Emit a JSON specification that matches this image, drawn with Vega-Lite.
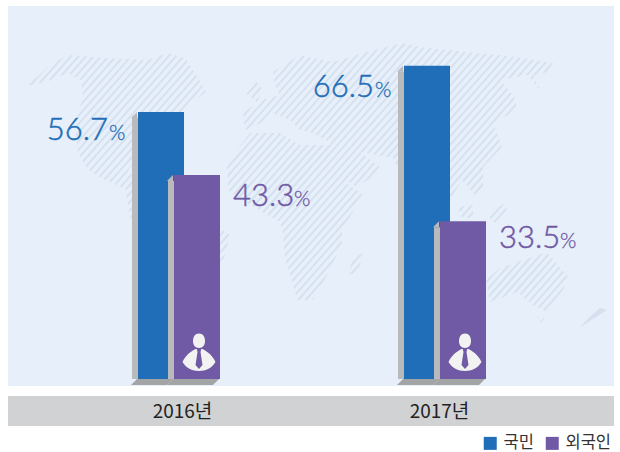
{"$schema":"https://vega.github.io/schema/vega-lite/v6.json","width":606,"height":380,"autosize":{"type":"none"},"padding":{"left":8,"top":6,"right":6,"bottom":66},"background":"#ffffff","view":{"fill":"#e7f0fa","stroke":null},"config":{"font":"Noto Sans CJK KR"},"datasets":{"origin":[{"cx":0,"cy":0}],"bars":[{"year":"2016","series":"국민","value":56.7},{"year":"2016","series":"외국인","value":43.3},{"year":"2017","series":"국민","value":66.5},{"year":"2017","series":"외국인","value":33.5}],"years":[{"year":"2016","value":0},{"year":"2017","value":0}]},"resolve":{"scale":{"x":"independent","y":"independent"},"axis":{"x":"independent","y":"independent"}},"layer":[{"data":{"name":"origin"},"encoding":{"x":{"field":"cx","type":"quantitative","axis":null,"scale":{"domain":[8,614],"nice":false,"zero":false}},"y":{"field":"cy","type":"quantitative","axis":null,"scale":{"domain":[386,6],"nice":false,"zero":false}}},"layer":[{"mark":{"type":"point","filled":true,"opacity":1,"fill":"#d1d2d4","strokeWidth":0,"size":4,"shape":"M8,396L614,396L614,426L8,426Z"}},{"mark":{"type":"point","filled":true,"opacity":1,"fill":"#d6e1ef","strokeWidth":0,"size":4,"clip":true,"shape":"M23,87L36,78L50,65L68,55L108,58L148,60L168,53L185,58L195,73L206,92L198,98L185,110L160,130L128,170L135,180L128,190L121,187L105,180L88,170L78,153L75,125L83,97L81,80L68,73L45,82ZM125,190L150,190L200,215L230,235L222,265L205,290L175,340L170,345L160,300L135,240ZM273,72L300,55L333,62L367,52L403,43L420,47L467,52L517,57L553,63L547,72L533,76L542,93L528,75L500,80L515,98L517,110L493,123L502,147L483,167L483,188L475,195L462,180L450,200L420,225L405,185L393,158L360,152L380,167L378,173L357,187L345,180L332,157L330,142L310,132L300,130L290,120L272,113L262,123L245,130L243,113L262,100L280,95L275,85ZM245,93L255,80L263,90L257,102ZM227,163L250,133L280,133L300,145L330,145L347,183L363,195L342,230L342,243L330,270L313,300L297,300L292,280L285,260L283,233L280,222L250,205L228,190ZM348,275L353,257L363,253L358,273ZM458,207L473,205L473,218L462,218ZM487,215L505,203L507,210L495,223ZM486,280L500,268L547,252L568,277L563,290L547,312L533,305L517,292L490,302ZM537,317L545,317L541,323ZM573,332L600,308L607,310L587,323Z"}},{"mark":{"type":"point","filled":false,"opacity":1,"stroke":"#e7f0fa","strokeWidth":3.6,"size":4,"clip":true,"shape":"M-251,340l274,-310m-266.5,310l274,-310m-266.5,310l274,-310m-266.5,310l274,-310m-266.5,310l274,-310m-266.5,310l274,-310m-266.5,310l274,-310m-266.5,310l274,-310m-266.5,310l274,-310m-266.5,310l274,-310m-266.5,310l274,-310m-266.5,310l274,-310m-266.5,310l274,-310m-266.5,310l274,-310m-266.5,310l274,-310m-266.5,310l274,-310m-266.5,310l274,-310m-266.5,310l274,-310m-266.5,310l274,-310m-266.5,310l274,-310m-266.5,310l274,-310m-266.5,310l274,-310m-266.5,310l274,-310m-266.5,310l274,-310m-266.5,310l274,-310m-266.5,310l274,-310m-266.5,310l274,-310m-266.5,310l274,-310m-266.5,310l274,-310m-266.5,310l274,-310m-266.5,310l274,-310m-266.5,310l274,-310m-266.5,310l274,-310m-266.5,310l274,-310m-266.5,310l274,-310m-266.5,310l274,-310m-266.5,310l274,-310m-266.5,310l274,-310m-266.5,310l274,-310m-266.5,310l274,-310m-266.5,310l274,-310m-266.5,310l274,-310m-266.5,310l274,-310m-266.5,310l274,-310m-266.5,310l274,-310m-266.5,310l274,-310m-266.5,310l274,-310m-266.5,310l274,-310m-266.5,310l274,-310m-266.5,310l274,-310m-266.5,310l274,-310m-266.5,310l274,-310m-266.5,310l274,-310m-266.5,310l274,-310m-266.5,310l274,-310m-266.5,310l274,-310m-266.5,310l274,-310m-266.5,310l274,-310m-266.5,310l274,-310m-266.5,310l274,-310m-266.5,310l274,-310m-266.5,310l274,-310m-266.5,310l274,-310m-266.5,310l274,-310m-266.5,310l274,-310m-266.5,310l274,-310m-266.5,310l274,-310m-266.5,310l274,-310m-266.5,310l274,-310m-266.5,310l274,-310m-266.5,310l274,-310m-266.5,310l274,-310m-266.5,310l274,-310m-266.5,310l274,-310m-266.5,310l274,-310m-266.5,310l274,-310m-266.5,310l274,-310m-266.5,310l274,-310m-266.5,310l274,-310m-266.5,310l274,-310m-266.5,310l274,-310m-266.5,310l274,-310m-266.5,310l274,-310m-266.5,310l274,-310m-266.5,310l274,-310m-266.5,310l274,-310m-266.5,310l274,-310m-266.5,310l274,-310m-266.5,310l274,-310m-266.5,310l274,-310m-266.5,310l274,-310m-266.5,310l274,-310m-266.5,310l274,-310m-266.5,310l274,-310m-266.5,310l274,-310m-266.5,310l274,-310m-266.5,310l274,-310m-266.5,310l274,-310m-266.5,310l274,-310m-266.5,310l274,-310m-266.5,310l274,-310m-266.5,310l274,-310m-266.5,310l274,-310m-266.5,310l274,-310m-266.5,310l274,-310m-266.5,310l274,-310m-266.5,310l274,-310m-266.5,310l274,-310m-266.5,310l274,-310m-266.5,310l274,-310"}}]},{"data":{"name":"bars"},"encoding":{"x":{"field":"year","type":"ordinal","scale":{"type":"point","domain":["2016","2017"],"padding":0.6391},"axis":{"title":null,"ticks":false,"tickSize":0,"grid":false,"domain":false,"zindex":1,"offset":25,"labelAngle":0,"labelFontSize":19,"labelColor":"#222222","labelPadding":0,"labelBaseline":"middle","labelFont":"Noto Sans CJK KR","labelOffset":{"expr":"datum.value=='2016'?4:-5"},"labelExpr":"datum.value+'년'"}},"y":{"field":"value","type":"quantitative","axis":null,"stack":null,"scale":{"domain":[-1.486,79.19],"nice":false,"zero":false}}},"layer":[{"transform":[{"filter":"datum.series=='국민'"}],"mark":{"type":"bar","width":6,"xOffset":-43,"yOffset":6,"y2Offset":6,"fill":"#b9babc"}},{"transform":[{"filter":"datum.series=='국민'"}],"mark":{"type":"point","filled":true,"opacity":1,"fill":"#b9babc","strokeWidth":0,"size":4,"shape":"M-47,6L-41,0L-41,6Z"}},{"transform":[{"filter":"datum.series=='국민'"}],"mark":{"type":"bar","width":46,"xOffset":-17},"encoding":{"color":{"field":"series","type":"nominal","scale":{"domain":["국민","외국인"],"range":["#1f6eb7","#7059a5"]},"legend":{"orient":"none","legendX":474,"legendY":429,"direction":"horizontal","title":null,"symbolType":"square","symbolSize":169,"symbolStrokeWidth":0,"labelFontSize":16.5,"labelColor":"#333333","labelFont":"Noto Sans CJK KR","columnPadding":10,"labelOffset":5,"padding":0}}}},{"transform":[{"filter":"datum.series=='외국인'"}],"mark":{"type":"bar","width":6,"xOffset":-7,"yOffset":6,"y2Offset":6,"fill":"#b9babc"}},{"transform":[{"filter":"datum.series=='외국인'"}],"mark":{"type":"point","filled":true,"opacity":1,"fill":"#b9babc","strokeWidth":0,"size":4,"shape":"M-11,6L-5,0L-5,6Z"}},{"data":{"name":"years"},"mark":{"type":"point","filled":true,"opacity":1,"fill":"#a3a4a6","strokeWidth":0,"size":4,"shape":"M-47,6L-41,0L41,0L35,6Z"}},{"data":{"name":"years"},"mark":{"type":"point","filled":false,"opacity":1,"stroke":"#b9babc","strokeWidth":0.8,"size":4,"shape":"M-11,6L-5,0"}},{"transform":[{"filter":"datum.series=='외국인'"}],"mark":{"type":"bar","width":46,"xOffset":19},"encoding":{"color":{"field":"series","type":"nominal","scale":{"domain":["국민","외국인"],"range":["#1f6eb7","#7059a5"]}}}},{"data":{"name":"years"},"mark":{"type":"point","filled":true,"opacity":1,"fill":"#f2f2f2","strokeWidth":0,"size":4,"shape":"M15,-38C15,-42 17,-45.5 21,-45.5C25,-45.5 27,-42 27,-38C27,-34 25,-31 21,-31C17,-31 15,-34 15,-38ZM4.5,-17C8,-25 14,-28 17.5,-30L24.5,-30C28,-28 34,-25 37.5,-17C34,-11 28,-8 21,-8C14,-8 8,-11 4.5,-17Z"}},{"data":{"name":"years"},"mark":{"type":"point","filled":true,"opacity":1,"fill":"#7059a5","strokeWidth":0,"size":4,"shape":"M18.5,-31L23.5,-31L22.5,-27L24.5,-14L21,-10L17.5,-14L19.5,-27Z"}},{"transform":[{"filter":"datum.series=='국민'"}],"mark":{"type":"text","font":"Lato","fontWeight":300,"fontSize":31,"align":"right","baseline":"alphabetic","dx":-70,"dy":{"expr":"datum.value==56.7?28:31"},"fill":"#1f6eb7","stroke":"#1f6eb7","strokeWidth":0.5},"encoding":{"text":{"field":"value","type":"quantitative","format":".1f"}}},{"transform":[{"filter":"datum.series=='국민'"}],"mark":{"type":"text","font":"Lato","fontWeight":300,"fontSize":21,"align":"left","baseline":"alphabetic","dx":-69,"dy":{"expr":"datum.value==56.7?28:31"},"fill":"#1f6eb7","stroke":"#1f6eb7","strokeWidth":0.3,"text":"%"}},{"transform":[{"filter":"datum.series=='외국인'"}],"mark":{"type":"text","font":"Lato","fontWeight":300,"fontSize":31,"align":"left","baseline":"alphabetic","dx":55,"dy":{"expr":"datum.value==33.5?27:31"},"fill":"#7059a5","stroke":"#7059a5","strokeWidth":0.5},"encoding":{"text":{"field":"value","type":"quantitative","format":".1f"}}},{"transform":[{"filter":"datum.series=='외국인'"}],"mark":{"type":"text","font":"Lato","fontWeight":300,"fontSize":21,"align":"left","baseline":"alphabetic","dx":116,"dy":{"expr":"datum.value==33.5?27:31"},"fill":"#7059a5","stroke":"#7059a5","strokeWidth":0.3,"text":"%"}}]}]}
